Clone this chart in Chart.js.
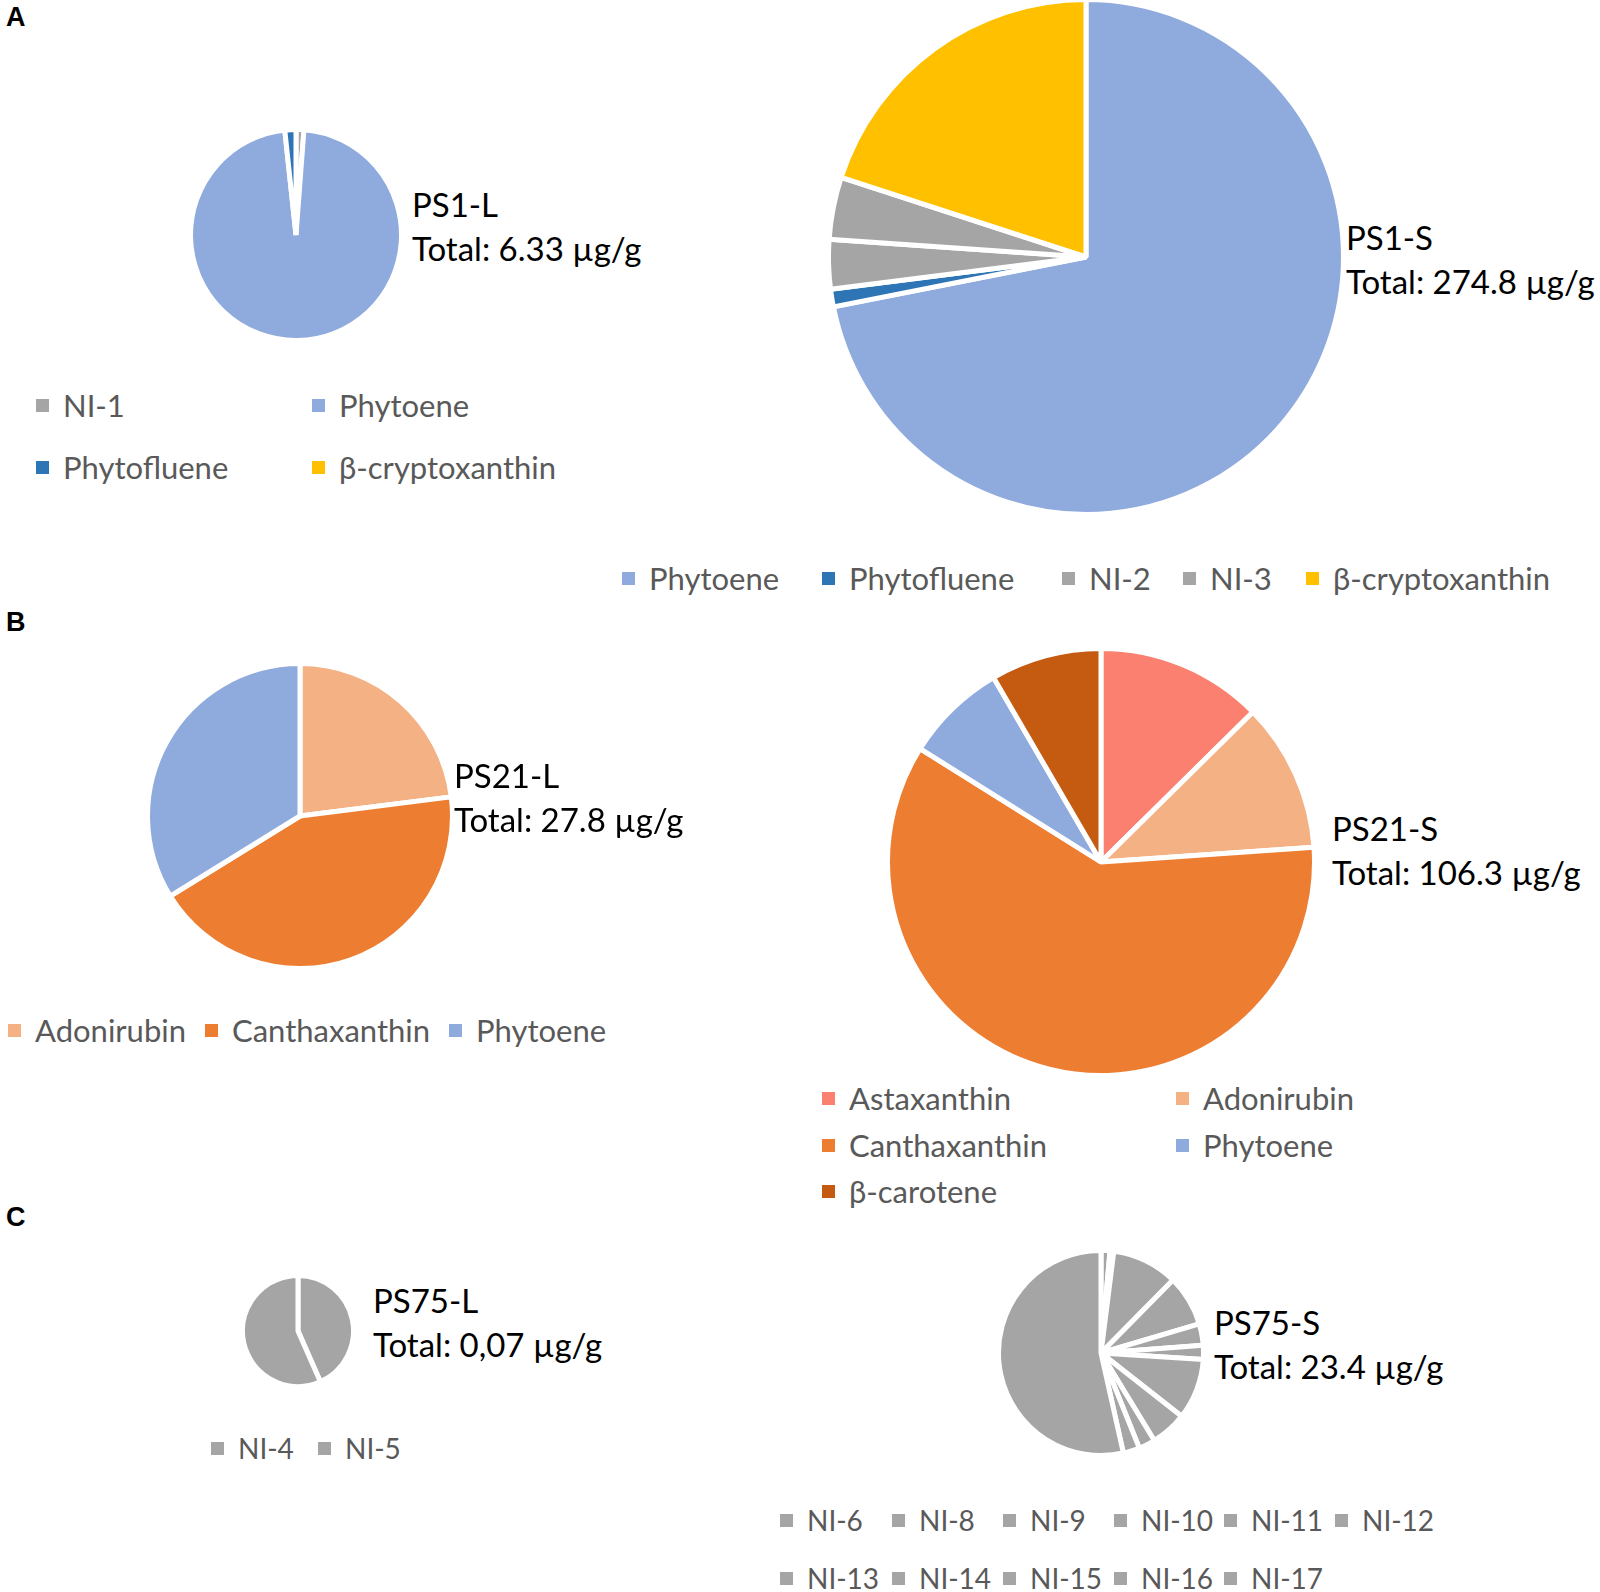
<!DOCTYPE html>
<html>
<head>
<meta charset="utf-8">
<title>Carotenoid composition</title>
<script src="https://cdn.jsdelivr.net/npm/chart.js@4.4.1/dist/chart.umd.min.js"></script>
<style>
  body   { margin: 0; background: #fff; }
  #stage { position: relative; width: 1600px; height: 1592px; overflow: hidden;
           font-family: Lato, 'Noto Sans', sans-serif; }
  .pie   { position: absolute; }
  .panel { position: absolute; font-family: 'Liberation Sans', Arial, sans-serif;
           font-weight: bold; font-size: 27px; line-height: 30px; color: #000; }
  .title { position: absolute; font-size: 33px; line-height: 44px; color: #000; white-space: nowrap; }
  .leg   { position: absolute; display: flex; align-items: center; height: 40px;
           font-size: 31px; color: #595959; white-space: nowrap; }
  .leg i { display: inline-block; width: 13px; height: 13px; margin-right: 14px; }
</style>
</head>
<body>
<div id="stage"></div>
<script>
'use strict';

// ── Data (share of each compound, % of total) ─────────────────
const ps1lLabels  = ['NI-1', 'Phytoene', 'Phytofluene', 'β-cryptoxanthin'];
const ps1lValues  = [1.2, 97.1, 1.7, 0];

const ps1sLabels  = ['Phytoene', 'Phytofluene', 'NI-2', 'NI-3', 'β-cryptoxanthin'];
const ps1sValues  = [71.9, 1.1, 3.1, 3.9, 20.0];

const ps21lLabels = ['Adonirubin', 'Canthaxanthin', 'Phytoene'];
const ps21lValues = [23.0, 43.2, 33.8];

const ps21sLabels = ['Astaxanthin', 'Adonirubin', 'Canthaxanthin', 'Phytoene', 'β-carotene'];
const ps21sValues = [12.6, 11.3, 60.0, 7.7, 8.4];

const ps75lLabels = ['NI-4', 'NI-5'];
const ps75lValues = [43.4, 56.6];

const ps75sLabels = ['NI-6', 'NI-8', 'NI-9', 'NI-10', 'NI-11', 'NI-12',
                     'NI-13', 'NI-14', 'NI-15', 'NI-16', 'NI-17'];
const ps75sValues = [1.4, 0.6, 10.4, 8.0, 3.4, 2.2, 9.6, 5.7, 2.6, 2.6, 53.5];

// ── Colours ───────────────────────────────────────────────────
const GREY = '#a5a5a5';
const COLORS = {
  'Phytoene':        '#8faadc',
  'Phytofluene':     '#2e75b6',
  'β-cryptoxanthin': '#ffc000',
  'Astaxanthin':     '#fb806f',
  'Adonirubin':      '#f4b183',
  'Canthaxanthin':   '#ed7d31',
  'β-carotene':      '#c55a11',
};
const colorOf = name => COLORS[name] || GREY;

const BORDER = 5;

// ── Layout (pie centre/radius, label and legend placement) ────
const CHARTS = [
  { labels: ps1lLabels,  values: ps1lValues,  cx: 296,  cy: 235,  r: 103,
    title: ['PS1-L',  'Total: 6.33 µg/g'],  tx: 412,  ty: 204,
    legX: [36, 312], legY: [405, 467] },
  { labels: ps1sLabels,  values: ps1sValues,  cx: 1086, cy: 257,  r: 255,
    title: ['PS1-S',  'Total: 274.8 µg/g'], tx: 1346, ty: 237,
    legX: [622, 822, 1062, 1183, 1306], legY: [578] },
  { labels: ps21lLabels, values: ps21lValues, cx: 300,  cy: 816,  r: 150,
    title: ['PS21-L', 'Total: 27.8 µg/g'],  tx: 454,  ty: 775,
    legX: [8, 205, 449], legY: [1030] },
  { labels: ps21sLabels, values: ps21sValues, cx: 1101, cy: 862,  r: 211,
    title: ['PS21-S', 'Total: 106.3 µg/g'], tx: 1332, ty: 828,
    legX: [822, 1176], legY: [1098, 1145, 1191] },
  { labels: ps75lLabels, values: ps75lValues, cx: 298,  cy: 1331, r: 53,
    title: ['PS75-L', 'Total: 0,07 µg/g'],  tx: 373,  ty: 1300,
    legX: [211, 318], legY: [1448], legSize: 28 },
  { labels: ps75sLabels, values: ps75sValues, cx: 1101, cy: 1353, r: 100,
    title: ['PS75-S', 'Total: 23.4 µg/g'],  tx: 1214, ty: 1322,
    legX: [780, 892, 1003, 1114, 1224, 1335], legY: [1520, 1578], legSize: 28 },
];

const PANELS = [['A', 17], ['B', 622], ['C', 1217]];

const stage = document.getElementById('stage');

// ── Helpers ───────────────────────────────────────────────────
function addDiv(cls, x, y, html) {
  const d = document.createElement('div');
  d.className = cls;
  d.style.left = x + 'px';
  d.style.top  = y + 'px';
  d.innerHTML  = html;
  stage.appendChild(d);
  return d;
}

function drawPie(c) {
  const size = 2 * (c.r + BORDER);
  const canvas = document.createElement('canvas');
  canvas.className = 'pie';
  canvas.width  = size;
  canvas.height = size;
  canvas.style.left = (c.cx - size / 2) + 'px';
  canvas.style.top  = (c.cy - size / 2) + 'px';
  stage.appendChild(canvas);

  new Chart(canvas, {
    type: 'pie',
    data: {
      labels: c.labels,
      datasets: [{
        data: c.values,
        backgroundColor: c.labels.map(colorOf),
        borderColor: '#ffffff',
        borderWidth: BORDER,
      }],
    },
    options: {
      responsive: false,
      animation: false,
      devicePixelRatio: 1,
      layout: { padding: 0 },
      plugins: { legend: { display: false }, tooltip: { enabled: false } },
    },
  });
}

function drawTitle(c) {
  addDiv('title', c.tx, c.ty - 22, c.title.join('<br>'));
}

function drawLegend(c) {
  const cols = c.legX.length;
  c.labels.forEach((name, i) => {
    const x = c.legX[i % cols];
    const y = c.legY[Math.floor(i / cols)];
    const item = addDiv('leg', x, y - 20, '');
    if (c.legSize) item.style.fontSize = c.legSize + 'px';
    const box = document.createElement('i');
    box.style.background = colorOf(name);
    item.appendChild(box);
    item.appendChild(document.createTextNode(name));
  });
}

// ── Render ────────────────────────────────────────────────────
PANELS.forEach(([letter, y]) => addDiv('panel', 6, y - 15, letter));

CHARTS.forEach(c => {
  drawPie(c);
  drawTitle(c);
  drawLegend(c);
});
</script>
</body>
</html>
